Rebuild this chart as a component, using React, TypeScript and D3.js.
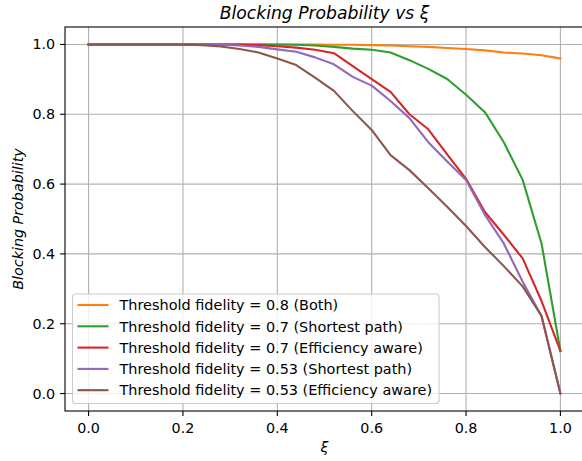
import React from "react";
import * as d3 from "d3";

const xi = [0.0, 0.04, 0.08, 0.12, 0.16, 0.2, 0.24, 0.28, 0.32, 0.36, 0.4, 0.44, 0.48, 0.52, 0.56, 0.6, 0.64, 0.68, 0.72, 0.76, 0.8, 0.84, 0.88, 0.92, 0.96, 1.0];

const fid08Both = [1, 1, 1, 1, 1, 1, 1, 1, 1, 1, 1, 1, 1, 0.999, 0.999, 0.998, 0.997, 0.995, 0.993, 0.99, 0.987, 0.983, 0.977, 0.974, 0.969, 0.96];
const fid07Shortest = [1, 1, 1, 1, 1, 1, 1, 1, 1, 1, 1, 0.999, 0.997, 0.993, 0.988, 0.985, 0.977, 0.955, 0.93, 0.901, 0.856, 0.806, 0.72, 0.612, 0.43, 0.122];
const fid07Efficiency = [1, 1, 1, 1, 1, 1, 1, 1, 1, 0.998, 0.995, 0.991, 0.985, 0.975, 0.938, 0.901, 0.864, 0.8, 0.757, 0.685, 0.615, 0.52, 0.455, 0.387, 0.265, 0.122];
const fid053Shortest = [1, 1, 1, 1, 1, 1, 1, 0.999, 0.997, 0.993, 0.986, 0.979, 0.963, 0.943, 0.907, 0.882, 0.838, 0.789, 0.72, 0.665, 0.612, 0.512, 0.43, 0.32, 0.222, 0.0];
const fid053Efficiency = [1, 1, 1, 1, 1, 1, 0.998, 0.994, 0.987, 0.977, 0.96, 0.941, 0.905, 0.867, 0.809, 0.755, 0.683, 0.64, 0.588, 0.535, 0.48, 0.42, 0.365, 0.307, 0.222, 0.0];

const seriesLabels = [
  "Threshold fidelity = 0.8 (Both)",
  "Threshold fidelity = 0.7 (Shortest path)",
  "Threshold fidelity = 0.7 (Efficiency aware)",
  "Threshold fidelity = 0.53 (Shortest path)",
  "Threshold fidelity = 0.53 (Efficiency aware)",
];
const seriesColors = ["#ff7f0e", "#2ca02c", "#d62728", "#9467bd", "#8c564b"];
const seriesValues = [fid08Both, fid07Shortest, fid07Efficiency, fid053Shortest, fid053Efficiency];

const xTicks = [0.0, 0.2, 0.4, 0.6, 0.8, 1.0];
const yTicks = [0.0, 0.2, 0.4, 0.6, 0.8, 1.0];

const W = 582;
const H = 461;
const L = 65;
const T = 27;
const R = 584;
const B = 411;
const FONT = "DejaVu Sans, sans-serif";

export default function App() {
  const x = d3.scaleLinear().domain([-0.05, 1.05]).range([L, R]);
  const y = d3.scaleLinear().domain([-0.05, 1.05]).range([B, T]);
  const line = d3
    .line<number>()
    .x((_, i) => x(xi[i]))
    .y((d) => y(d));

  const legX = 72.5;
  const legY = 294;
  const rowH = 21.3;

  return (
    <svg
      width={W}
      height={H}
      style={{ position: "absolute", left: 0, top: 0, background: "#fff" }}
      fontFamily={FONT}
    >
      <rect x={0} y={0} width={W} height={H} fill="#fff" />
      {xTicks.map((t) => (
        <line key={"gx" + t} x1={x(t)} x2={x(t)} y1={T} y2={B} stroke="#b0b0b0" strokeWidth={1.1} />
      ))}
      {yTicks.map((t) => (
        <line key={"gy" + t} x1={L} x2={R} y1={y(t)} y2={y(t)} stroke="#b0b0b0" strokeWidth={1.1} />
      ))}
      {seriesValues.map((vals, i) => (
        <path
          key={"s" + i}
          d={line(vals) || ""}
          fill="none"
          stroke={seriesColors[i]}
          strokeWidth={2.1}
          strokeLinejoin="round"
          strokeLinecap="square"
        />
      ))}
      <rect x={L} y={T} width={R - L} height={B - T} fill="none" stroke="#000" strokeWidth={1.1} />
      {xTicks.map((t) => (
        <g key={"tx" + t}>
          <line x1={x(t)} x2={x(t)} y1={B} y2={B + 4.9} stroke="#000" strokeWidth={1.1} />
          <text x={x(t)} y={B + 21.5} textAnchor="middle" fontSize={14.3} fill="#000">
            {t.toFixed(1)}
          </text>
        </g>
      ))}
      {yTicks.map((t) => (
        <g key={"ty" + t}>
          <line x1={L - 4.9} x2={L} y1={y(t)} y2={y(t)} stroke="#000" strokeWidth={1.1} />
          <text x={L - 9.8} y={y(t) + 5} textAnchor="end" fontSize={14.3} fill="#000">
            {t.toFixed(1)}
          </text>
        </g>
      ))}
      <text x={(L + R) / 2} y={19} textAnchor="middle" fontSize={17.2} fontStyle="italic" fill="#000">
        Blocking Probability vs ξ
      </text>
      <text x={(L + R) / 2} y={452} textAnchor="middle" fontSize={14.3} fontStyle="italic" fill="#000">
        ξ
      </text>
      <text
        transform={`translate(23, ${(T + B) / 2}) rotate(-90)`}
        textAnchor="middle"
        fontSize={14.3}
        fontStyle="italic"
        fill="#000"
      >
        Blocking Probability
      </text>
      <rect
        x={legX}
        y={legY}
        width={366.5}
        height={109.5}
        rx={3}
        ry={3}
        fill="#fff"
        fillOpacity={0.8}
        stroke="#cccccc"
        strokeWidth={1.1}
      />
      {seriesLabels.map((lab, i) => {
        const cy = legY + 11 + i * rowH;
        return (
          <g key={"l" + i}>
            <line x1={77.5} x2={108.5} y1={cy} y2={cy} stroke={seriesColors[i]} strokeWidth={2.1} />
            <text x={119.5} y={cy + 5.2} fontSize={14.45} fill="#000">
              {lab}
            </text>
          </g>
        );
      })}
    </svg>
  );
}
